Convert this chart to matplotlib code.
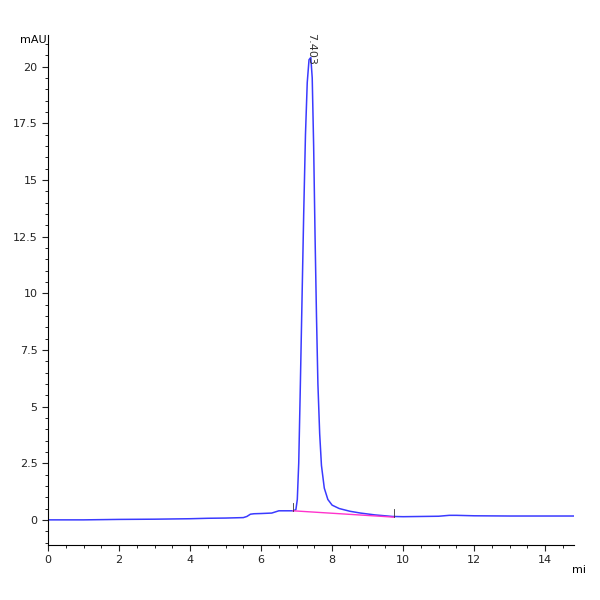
import matplotlib
matplotlib.use("Agg")
import matplotlib.pyplot as plt
from matplotlib.ticker import MultipleLocator

time = [0, 0.5, 1, 2, 3, 4, 4.5, 5, 5.5, 5.6, 5.7, 5.8, 6.0, 6.3, 6.4, 6.5, 6.9, 6.98, 7.02, 7.06, 7.10, 7.15,
        7.20, 7.25, 7.30, 7.35, 7.40, 7.44, 7.48, 7.52, 7.56, 7.60, 7.65, 7.70, 7.78, 7.88,
        8.0, 8.2, 8.5, 8.8, 9.2, 9.7, 10, 10.5, 11, 11.3, 11.5, 12, 13, 14, 15]
signal = [0.0, 0.0, 0.0, 0.02, 0.03, 0.05, 0.07, 0.08, 0.1, 0.15, 0.25, 0.27, 0.28, 0.3, 0.35, 0.4, 0.4, 0.45,
          0.9, 2.5, 5.5, 9.5, 13.5, 17.0, 19.3, 20.3, 20.4, 19.5, 16.5, 12.5, 9.0, 6.0, 3.8,
          2.4, 1.4, 0.9, 0.65, 0.5, 0.38, 0.3, 0.22, 0.15, 0.14, 0.15, 0.16, 0.2, 0.2, 0.18, 0.17, 0.17, 0.17]
base_t = [6.9, 9.75]
base_y = [0.4, 0.12]
peak_label = "7.403"
peak_t, peak_y = 7.403, 20.4

fig = plt.figure(figsize=(6, 6), dpi=100)
ax = fig.add_axes([0.08, 0.092, 0.876, 0.85])
ax.plot(time, signal, color="#3a3aff", lw=1.1)
ax.plot(base_t, base_y, color="#ff33cc", lw=1.0)
for bt, by in zip(base_t, base_y):
    ax.plot([bt, bt], [by, by + 0.35], color="#333333", lw=0.6)
ax.text(peak_t, 21.5, peak_label, rotation=270, ha="center", va="top",
        fontsize=8, color="#333333")
ax.set_xlim(0, 14.8)
ax.set_ylim(-1.1, 21.4)
for s in ["top", "right"]:
    ax.spines[s].set_visible(False)
ax.xaxis.set_major_locator(MultipleLocator(2))
ax.xaxis.set_minor_locator(MultipleLocator(0.5))
ax.yaxis.set_minor_locator(MultipleLocator(0.5))
ax.set_yticks([0, 2.5, 5, 7.5, 10, 12.5, 15, 17.5, 20])
ax.set_yticklabels(["0", "2.5", "5", "7.5", "10", "12.5", "15", "17.5", "20"])
ax.tick_params(labelsize=8, colors="#222222", length=4)
ax.tick_params(which="minor", length=2.5)
ax.text(-0.03, 21.4, "mAU", transform=ax.transData, ha="right", va="top", fontsize=8)
ax.text(14.75, -2.2, "mi", ha="left", va="center", fontsize=8, clip_on=False)
fig.savefig("out.png")
